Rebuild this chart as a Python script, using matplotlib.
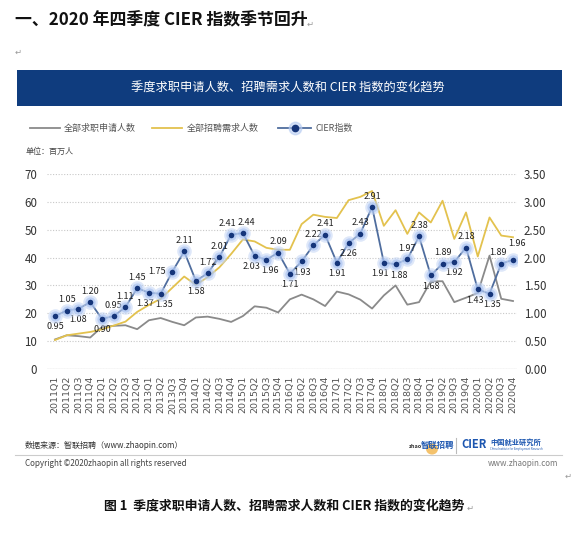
import matplotlib
matplotlib.use('Agg')
import matplotlib.pyplot as plt
from matplotlib.lines import Line2D
from matplotlib.patches import Rectangle, Circle
import matplotlib.ticker as mtick

plt.rcParams['font.family'] = ['Noto Sans CJK SC', 'DejaVu Sans']

# ── Data ──────────────────────────────────────────────────────
quarters = [f'{y}Q{q}' for y in range(2011, 2021) for q in range(1, 5)]

applicants = [10.6, 12.1, 11.8, 11.3, 15.1, 15.5, 15.7, 14.3,
              17.5, 18.3, 16.9, 15.7, 18.5, 18.8, 18.0, 16.9,
              19.0, 22.5, 22.0, 20.3, 25.0, 26.7, 25.0, 22.6,
              27.8, 26.8, 24.9, 21.7, 26.4, 30.0, 23.1, 24.0,
              31.5, 31.5, 24.0, 25.6, 27.3, 40.7, 25.2, 24.4]

demand = [10.4, 12.1, 12.7, 13.3, 14.2, 15.6, 17.0, 20.5,
          23.0, 25.2, 29.2, 33.2, 30.2, 33.0, 36.5, 41.3,
          46.5, 45.8, 43.5, 42.8, 42.8, 52.0, 55.4, 54.6,
          54.2, 60.6, 61.8, 63.9, 51.4, 57.0, 48.5, 56.2,
          52.6, 60.4, 46.7, 56.2, 40.4, 54.4, 47.9, 47.3]

cier = [0.95, 1.05, 1.08, 1.20, 0.90, 0.95, 1.11, 1.45,
        1.37, 1.35, 1.75, 2.11, 1.58, 1.72, 2.01, 2.41,
        2.44, 2.03, 1.96, 2.09, 1.71, 1.93, 2.22, 2.41,
        1.91, 2.26, 2.43, 2.91, 1.91, 1.88, 1.97, 2.38,
        1.68, 1.89, 1.92, 2.18, 1.43, 1.35, 1.89, 1.96]

# label placement: a = above, b = below, l = left
label_pos = list('baba' 'baaa' 'bbla' 'baaa' 'abba'
                 'bbaa' 'bbaa' 'bbaa' 'baba' 'bbaa')
# small nudges (points) for crowded neighbours
nudge = {8: -2.5, 9: 2.5, 15: -2.5, 16: 2.5, 17: -2.5, 18: 2.5,
         28: -2.5, 29: 2.5, 36: -2, 37: 2, 38: -2.5, 39: 3}
lift = {39: 4}

GRAY = '#8a8a8a'
GOLD = '#e3c24e'
BLUE_LINE = '#4f6d9e'
NAVY = '#15357a'
BANNER = '#0f3c7e'

W, H = 580, 537
fig = plt.figure(figsize=(W / 100, H / 100), dpi=100)


def px(x, y):
    return x / W, 1 - y / H


# ── Header ────────────────────────────────────────────────────
fig.text(*px(15, 20), '一、2020 年四季度 CIER 指数季节回升', fontsize=12.2,
         fontweight='bold', va='center', ha='left', color='#111111')
fig.text(*px(307, 24), '↵', fontsize=6, color='#999999', va='center',
         family=['DejaVu Sans'])
fig.text(*px(15, 52), '↵', fontsize=6, color='#999999', va='center',
         family=['DejaVu Sans'])

x0, y0 = px(17, 106)
fig.add_artist(Rectangle((x0, y0), (562 - 17) / W, 36 / H,
                         transform=fig.transFigure, color=BANNER, lw=0))
fig.text(*px(288, 88), '季度求职申请人数、招聘需求人数和 CIER 指数的变化趋势',
         fontsize=8.8, color='white', ha='center', va='center')

# ── Legend row ────────────────────────────────────────────────
def leg_line(xa, xb, y, color, marker=None):
    (fa, fy), (fb, _) = px(xa, y), px(xb, y)
    fig.add_artist(Line2D([fa, fb], [fy, fy], transform=fig.transFigure,
                          color=color, lw=1.3))
    if marker:
        fig.add_artist(Line2D([(fa + fb) / 2], [fy], transform=fig.transFigure,
                              marker='o', ms=9, color='#b7ccf2', alpha=0.6, lw=0))
        fig.add_artist(Line2D([(fa + fb) / 2], [fy], transform=fig.transFigure,
                              marker='o', ms=4.5, color=NAVY, lw=0))


leg_line(30, 60, 128, GRAY)
fig.text(*px(64, 128), '全部求职申请人数', fontsize=6.5, color='#555555', va='center')
leg_line(152, 182, 128, GOLD)
fig.text(*px(187, 128), '全部招聘需求人数', fontsize=6.5, color='#555555', va='center')
leg_line(278, 311, 128, BLUE_LINE, marker=True)
fig.text(*px(315, 128), 'CIER指数', fontsize=6.5, color='#555555', va='center')
fig.text(*px(26, 151), '单位：百万人', fontsize=5.8, color='#444444', va='center')

# ── Main chart ────────────────────────────────────────────────
ax_l, ax_b = 47 / W, 1 - 369 / H
ax = fig.add_axes([ax_l, ax_b, (517 - 47) / W, (369 - 174) / H])
xs = list(range(len(quarters)))

ax.plot(xs, applicants, color=GRAY, lw=1.3, zorder=2)
ax.plot(xs, demand, color=GOLD, lw=1.3, zorder=2)
ax.set_xlim(-0.68, 39.34)
ax.set_ylim(0, 70)
ax.set_yticks(range(0, 71, 10))
ax.yaxis.grid(True, ls=(0, (1, 1.5)), color='#c8c8c8', lw=0.8)
ax.set_axisbelow(True)
ax.set_xticks(xs)
ax.set_xticklabels(quarters, rotation=90, fontsize=6.8, color='#555555',
                   family=['DejaVu Sans'])
ax.tick_params(axis='y', labelsize=8.3, colors='#333333', length=0, pad=7)
ax.tick_params(axis='x', length=0, pad=5)
for s in ax.spines.values():
    s.set_visible(False)
ax.axhline(0, color='#cfcfcf', lw=0.9)

ax2 = ax.twinx()
ax2.set_ylim(0, 3.5)
ax2.set_yticks([i * 0.5 for i in range(8)])
ax2.yaxis.set_major_formatter(mtick.FormatStrFormatter('%.2f'))
ax2.tick_params(axis='y', labelsize=8.3, colors='#333333', length=0, pad=5)
for s in ax2.spines.values():
    s.set_visible(False)

# CIER line with glowing markers
ax2.plot(xs, cier, color=BLUE_LINE, lw=1.3, zorder=3)
ax2.scatter(xs, cier, s=110, color='#c3d5f5', alpha=0.55, lw=0, zorder=4)
ax2.scatter(xs, cier, s=55, color='#9fbcf0', alpha=0.55, lw=0, zorder=4)
ax2.scatter(xs, cier, s=16, color=NAVY, lw=0, zorder=5)

for x, v, p in zip(xs, cier, label_pos):
    dx = nudge.get(x, 0)
    dy = 4.5 + lift.get(x, 0)
    if p == 'a':
        ax2.annotate(f'{v:.2f}', (x, v), xytext=(dx, dy), textcoords='offset points',
                     ha='center', va='bottom', fontsize=6.5, color='#222222')
    elif p == 'b':
        ax2.annotate(f'{v:.2f}', (x, v), xytext=(dx, -dy), textcoords='offset points',
                     ha='center', va='top', fontsize=6.5, color='#222222')
    else:
        ax2.annotate(f'{v:.2f}', (x, v), xytext=(-5, 0), textcoords='offset points',
                     ha='right', va='center', fontsize=6.5, color='#222222')

# ── Footer ────────────────────────────────────────────────────
fig.text(*px(25, 446), '数据来源：智联招聘（www.zhaopin.com）', fontsize=5.8,
         color='#333333', va='center')
fig.add_artist(Line2D([15 / W, 562 / W], [1 - 455 / H] * 2,
                      transform=fig.transFigure, color='#cccccc', lw=0.8))
fig.text(*px(25, 464), 'Copyright ©2020zhaopin all rights reserved', fontsize=5.8,
         color='#444444', va='center')
fig.text(*px(558, 464), 'www.zhaopin.com', fontsize=5.8, color='#777777',
         va='center', ha='right')

# logos
fig.add_artist(Circle(px(432, 449), 6 / W, transform=fig.transFigure,
                      color='#f2b347', alpha=0.8, lw=0))
fig.text(*px(409, 446), 'zhao', fontsize=4, color='#333333', va='center',
         style='italic', fontweight='bold')
fig.text(*px(421, 445), '智联招聘', fontsize=6, color='#1c56b0', va='center',
         style='italic', fontweight='bold')
fig.add_artist(Line2D([456 / W, 456 / W], [1 - 438 / H, 1 - 453 / H],
                      transform=fig.transFigure, color='#bbbbbb', lw=0.8))
fig.text(*px(461, 445), 'CIER', fontsize=8, color='#1c56b0', va='center',
         fontweight='bold')
fig.text(*px(490, 442), '中国就业研究所', fontsize=5.2, color='#1c56b0',
         va='center', fontweight='bold')
fig.text(*px(490, 449), 'China Institute for Employment Research', fontsize=2,
         color='#1c56b0', va='center')
fig.text(*px(565, 476), '↵', fontsize=6, color='#999999', va='center',
         family=['DejaVu Sans'])

fig.text(*px(284, 506), '图 1  季度求职申请人数、招聘需求人数和 CIER 指数的变化趋势',
         fontsize=9.3, fontweight='bold', ha='center', va='center', color='#111111')
fig.text(*px(467, 508), '↵', fontsize=6, color='#999999', va='center',
         family=['DejaVu Sans'])

plt.savefig('out.png', dpi=100)
plt.close()
